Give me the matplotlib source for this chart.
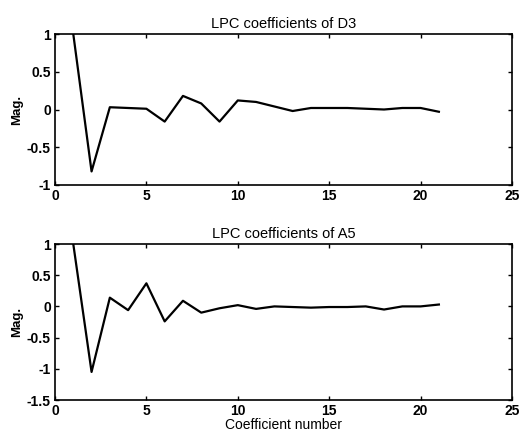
import numpy as np
import matplotlib.pyplot as plt

# coefficient index
coef_n = np.arange(1, 22)

# LPC coefficients
lpc_d3 = [1.0, -0.82, 0.03, 0.02, 0.01, -0.16, 0.18, 0.08, -0.16, 0.12, 0.10,
          0.04, -0.02, 0.02, 0.02, 0.02, 0.01, 0.0, 0.02, 0.02, -0.03]
lpc_a5 = [1.0, -1.05, 0.14, -0.06, 0.37, -0.24, 0.09, -0.10, -0.03, 0.02, -0.04,
          0.0, -0.01, -0.02, -0.01, -0.01, 0.0, -0.05, 0.0, 0.0, 0.03]

plt.rcParams['font.family'] = ['Liberation Sans', 'DejaVu Sans']
plt.rcParams['font.size'] = 10

fig = plt.figure(figsize=(5.24, 4.32), dpi=100)
ax1 = fig.add_axes([55/524, 1 - 185/432, 457/524, 151/432])
ax2 = fig.add_axes([55/524, 1 - 400/432, 457/524, 156/432])

for ax, y, title, ylim, yticks in [
        (ax1, lpc_d3, 'LPC coefficients of D3', (-1, 1), [-1, -0.5, 0, 0.5, 1]),
        (ax2, lpc_a5, 'LPC coefficients of A5', (-1.5, 1), [-1.5, -1, -0.5, 0, 0.5, 1])]:
    ax.plot(coef_n, y, color='black', lw=1.6)
    ax.set_xlim(0, 25)
    ax.set_ylim(*ylim)
    ax.set_xticks([0, 5, 10, 15, 20, 25])
    ax.set_yticks(yticks)
    ax.set_yticklabels(['%g' % t for t in yticks])
    ax.tick_params(direction='in', top=True, right=True, length=3, width=1,
                   labelsize=10, pad=3)
    for lbl in ax.get_xticklabels() + ax.get_yticklabels():
        lbl.set_fontweight('bold')
    for s in ax.spines.values():
        s.set_linewidth(1.2)
    ax.set_title(title, fontsize=10.5, pad=4)
    ax.set_ylabel('Mag.', fontsize=9.5, fontweight='bold', labelpad=3)

ax2.set_xlabel('Coefficient number', fontsize=10, labelpad=0)

fig.savefig('out.png', dpi=100)
